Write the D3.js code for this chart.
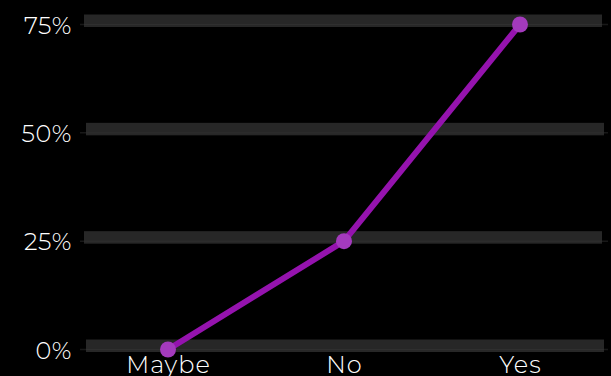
<!DOCTYPE html>
<html><head><meta charset="utf-8">
<script src="https://cdn.jsdelivr.net/npm/d3@7"></script>
<style>
html,body{margin:0;padding:0;background:#000;overflow:hidden;}
svg{display:block;}
text{font-family:"Montserrat","Open Sans",sans-serif;}
</style></head>
<body>
<svg id="c" width="611" height="376"></svg>
<script>
const categories = ["Maybe", "No", "Yes"];
const values = [0, 25, 75];
const yTicks = [0, 25, 50, 75];

const W = 611, H = 376;
const margin = {left: 80, right: 3, top: 24.5, bottom: 26.5};
const svg = d3.select("#c");
svg.append("rect").attr("width", W).attr("height", H).attr("fill", "#000");

const x = d3.scalePoint().domain(categories).range([margin.left, W - margin.right]).padding(0.5);
const y = d3.scaleLinear().domain([0, 75]).range([H - margin.bottom, margin.top]);

// grid bands
const g = svg.append("g");
yTicks.forEach((t, i) => {
  const yy = y(t);
  g.append("line").attr("x1", margin.left).attr("x2", W - 3)
    .attr("y1", yy).attr("y2", yy).attr("stroke", "#181818").attr("stroke-width", 1.5);
  const off = (i % 2 === 0) ? 2 : 0;
  g.append("rect").attr("x", margin.left + 4 + off).attr("width", 518)
    .attr("y", yy - 10).attr("height", 12.5).attr("fill", "#272727");
  g.append("line").attr("x1", margin.left + 4 + off).attr("x2", margin.left + 4 + off + 518)
    .attr("y1", yy).attr("y2", yy).attr("stroke", "#2f2f2f").attr("stroke-width", 1);
});

// y axis
const yAxis = d3.axisLeft(y).tickValues(yTicks).tickFormat(d => d + "%").tickSize(0).tickPadding(8);
const ya = svg.append("g").attr("transform", `translate(${margin.left},0)`).call(yAxis);
ya.select(".domain").remove();
ya.selectAll("text").attr("fill", "#fff").attr("font-size", 24).attr("font-weight", 300)
  .attr("letter-spacing", "0.6px").attr("dy", "0.36em");

// x axis
const xAxis = d3.axisBottom(x).tickSize(0);
const xa = svg.append("g").attr("transform", `translate(0,${H - margin.bottom})`).call(xAxis);
xa.select(".domain").remove();
xa.selectAll("text").attr("fill", "#fff").attr("font-size", 24).attr("font-weight", 300)
  .attr("letter-spacing", "1px").attr("y", 23.5).attr("dy", 0);

// line
const data = categories.map((c, i) => ({c, v: values[i]}));
svg.append("path").datum(data)
  .attr("d", d3.line().x(d => x(d.c)).y(d => y(d.v)))
  .attr("fill", "none").attr("stroke", "#9513ae").attr("stroke-width", 6)
  .attr("stroke-linecap", "round").attr("stroke-linejoin", "round");
svg.selectAll("circle.pt").data(data).enter().append("circle")
  .attr("class", "pt").attr("cx", d => x(d.c)).attr("cy", d => y(d.v)).attr("r", 8)
  .attr("fill", "#a43abd");
</script>
</body></html>
